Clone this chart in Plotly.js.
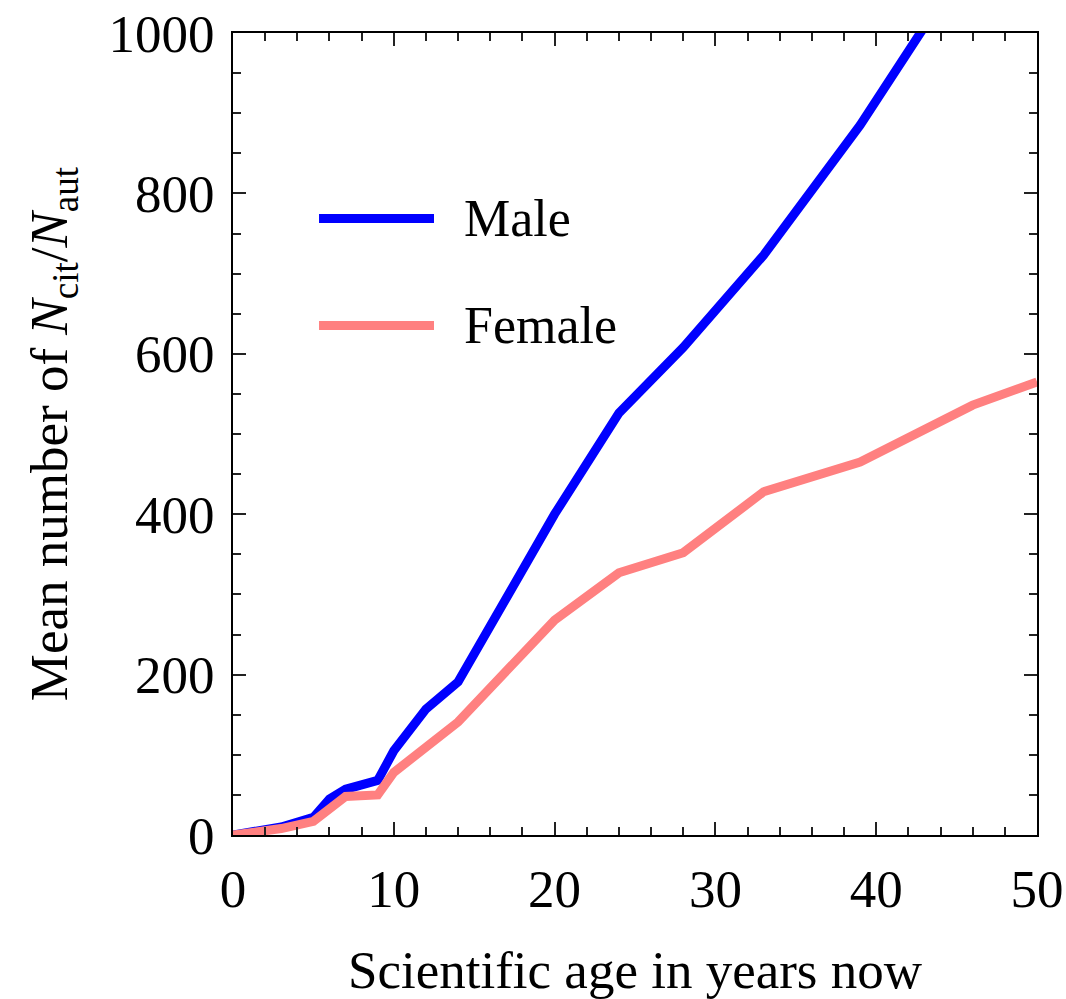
<!DOCTYPE html>
<html>
<head>
<meta charset="utf-8">
<script src="https://cdn.plot.ly/plotly-3.0.1.min.js"></script>
<style>html,body{margin:0;padding:0;background:#fff}#chart{width:1066px;height:999px}</style>
</head>
<body>
<div id="chart"></div>
<script>
const maleAge = [0, 3, 5, 6, 7, 9, 10, 12, 14, 17, 20, 24, 28, 33, 39, 46];
const maleVal = [0, 10, 22, 45, 57, 68, 105, 157, 191, 293, 400, 526, 608, 723, 885, 1100];
const femaleAge = [0, 3, 5, 6, 7, 9, 10, 14, 20, 24, 28, 33, 39, 46, 50];
const femaleVal = [0, 8, 17, 31, 48, 50, 78, 141, 268, 327, 352, 428, 465, 536, 565];
const seriesNames = ["Male", "Female"];
const seriesColors = ["#0000ff", "#ff8080"];

const font = "'Liberation Serif', 'Times New Roman', serif";

const traces = [
  {x: maleAge, y: maleVal, mode: "lines", name: seriesNames[0],
   line: {color: seriesColors[0], width: 9}, showlegend: false},
  {x: femaleAge, y: femaleVal, mode: "lines", name: seriesNames[1],
   line: {color: seriesColors[1], width: 9}, showlegend: false}
];

const axisCommon = {
  showgrid: false, zeroline: false, showline: true, linecolor: "#000", linewidth: 2,
  mirror: "allticks", ticks: "inside", ticklen: 13, tickwidth: 2, tickcolor: "#222",
  tickfont: {family: font, size: 53, color: "#000"}
};

const layout = {
  width: 1066, height: 999,
  margin: {l: 233, r: 29, t: 33, b: 164},
  paper_bgcolor: "#fff", plot_bgcolor: "#fff",
  font: {family: font, color: "#000"},
  xaxis: Object.assign({}, axisCommon, {
    range: [0, 50], dtick: 10, tick0: 0,
    minor: {dtick: 2, ticks: "inside", ticklen: 8, tickwidth: 2, tickcolor: "#222"},
    ticklabelstandoff: 6,
    title: {text: "Scientific age in years now", font: {family: font, size: 53}, standoff: 34}
  }),
  yaxis: Object.assign({}, axisCommon, {
    range: [0, 1000], dtick: 200, tick0: 0,
    minor: {dtick: 50, ticks: "inside", ticklen: 8, tickwidth: 2, tickcolor: "#222"},
    ticklabelstandoff: 6,
    title: {text: "Mean number of <i>N</i><sub>cit</sub>/<i>N</i><sub>aut</sub>",
            font: {family: font, size: 53}, standoff: 24}
  }),
  shapes: [
    {type: "line", xref: "paper", yref: "paper", x0: 0.107, x1: 0.250, y0: 0.7686, y1: 0.7686,
     line: {color: seriesColors[0], width: 9}},
    {type: "line", xref: "paper", yref: "paper", x0: 0.107, x1: 0.250, y0: 0.6352, y1: 0.6352,
     line: {color: seriesColors[1], width: 9}}
  ],
  annotations: [
    {xref: "paper", yref: "paper", x: 0.285, y: 0.7686, xanchor: "left", yanchor: "middle",
     text: seriesNames[0], showarrow: false, font: {family: font, size: 52, color: "#000"}},
    {xref: "paper", yref: "paper", x: 0.285, y: 0.6352, xanchor: "left", yanchor: "middle",
     text: seriesNames[1], showarrow: false, font: {family: font, size: 52, color: "#000"}}
  ]
};

Plotly.newPlot("chart", traces, layout, {staticPlot: true, displayModeBar: false});
</script>
</body>
</html>
